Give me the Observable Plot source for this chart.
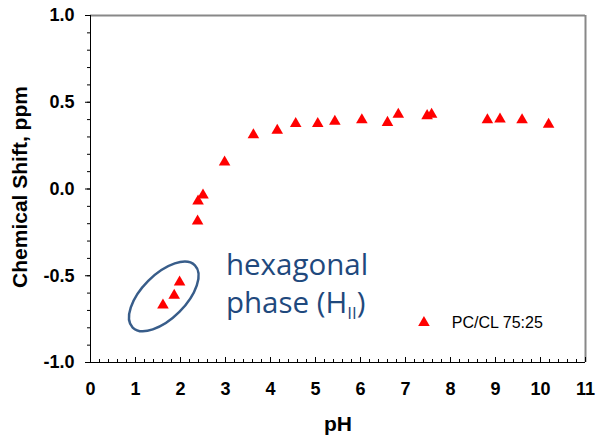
<!DOCTYPE html>
<html><head><meta charset="utf-8">
<script src="https://cdn.jsdelivr.net/npm/d3@7"></script>
<script src="https://cdn.jsdelivr.net/npm/@observablehq/plot@0.6"></script>
<style>body{margin:0;background:#fff;} #chart svg{display:block;}</style>
</head><body><div id="chart"></div>
<script>
// ---- data ----
const pHValues = [1.61, 1.86, 1.98, 2.38, 2.39, 2.50, 2.98, 3.62, 4.15, 4.56, 5.05, 5.43, 6.03, 6.60, 6.84, 7.48, 7.58, 8.82, 9.10, 9.59, 10.18];
const shiftValues = [-0.670, -0.614, -0.537, -0.186, -0.070, -0.035, 0.155, 0.312, 0.337, 0.376, 0.376, 0.390, 0.398, 0.383, 0.430, 0.422, 0.430, 0.398, 0.402, 0.398, 0.372];
const seriesName = "PC/CL 75:25";
const xTickValues = [0, 1, 2, 3, 4, 5, 6, 7, 8, 9, 10, 11];
const yTickValues = [-1, -0.5, 0, 0.5, 1];
const xTitle = "pH";
const yTitle = "Chemical Shift, ppm";
const annotationText = ["hexagonal", "phase (H", "II", ")"];

const data = pHValues.map((x, i) => ({pH: x, shift: shiftValues[i]}));
const xMinor = d3.range(0, 110.5, 2).map(d => d / 10);
const yMinor = d3.range(-10, 10.5, 1).map(d => d / 10);
const font = "'Liberation Sans', Arial, Helvetica, sans-serif";
const annoColor = "#1F497D";

const annotation = (index, scales) => {
  const g = d3.create("svg:g");
  g.append("ellipse")
    .attr("transform", `translate(${scales.x(1.64)},${scales.y(-0.622)}) rotate(-45)`)
    .attr("rx", 44).attr("ry", 22)
    .attr("fill", "none").attr("stroke", "#385D8A").attr("stroke-width", 2.5);
  const t = g.append("g")
    .attr("font-family", "'Open Sans', Lato, sans-serif")
    .attr("text-anchor", "start")
    .attr("font-size", 29.5).attr("fill", annoColor);
  t.append("text").attr("x", scales.x(3.02)).attr("y", scales.y(-0.5)).text(annotationText[0]);
  const t2 = t.append("text").attr("x", scales.x(3.02)).attr("y", scales.y(-0.72));
  t2.append("tspan").text(annotationText[1]);
  t2.append("tspan").attr("font-size", 17).attr("dy", 6).text(annotationText[2]);
  t2.append("tspan").attr("dy", -6).text(annotationText[3]);
  return g.node();
};

const chart = Plot.plot({
  width: 602, height: 444,
  marginLeft: 90, marginRight: 17, marginTop: 15, marginBottom: 82,
  x: {domain: [0, 11]},
  y: {domain: [-1, 1]},
  style: {fontFamily: font, background: "#fff", color: "#000", overflow: "visible"},
  marks: [
    // frame top/right (gray)
    Plot.ruleY([1], {stroke: "#888", strokeWidth: 2}),
    Plot.ruleX([11], {stroke: "#888", strokeWidth: 2}),
    // x axis: minor and major inward ticks
    Plot.axisX(xMinor, {tickSize: -3, text: null, label: null, stroke: "#000"}),
    Plot.axisX(xTickValues, {tickSize: -5, text: null, label: null, stroke: "#000"}),
    Plot.axisX(xTickValues, {tickSize: 0, tickPadding: 20, fontSize: 18, fontWeight: "bold", label: null, tickFormat: d => String(d)}),
    // y axis
    Plot.axisY(yMinor, {tickSize: 3, text: null, label: null, stroke: "#000"}),
    Plot.axisY(yTickValues, {tickSize: 5, tickPadding: 11, fontSize: 18, fontWeight: "bold", label: null, tickFormat: d => d.toFixed(1)}),
    Plot.ruleX([0], {stroke: "#000", strokeWidth: 1}),
    Plot.ruleY([-1], {stroke: "#000", strokeWidth: 1}),
    // titles
    Plot.text([xTitle], {frameAnchor: "bottom", dy: 68, text: d => d, fontSize: 21, fontWeight: "bold", fill: "#000"}),
    Plot.text([yTitle], {frameAnchor: "left", textAnchor: "middle", dx: -70, dy: -2, rotate: -90, text: d => d, fontSize: 21, fontWeight: "bold", fill: "#000"}),
    // data
    Plot.dot(data, {x: "pH", y: "shift", symbol: "triangle", r: 4.3, fill: "#FF0000", stroke: "none"}),
    // legend
    Plot.dot([seriesName], {x: 7.41, y: -0.77, symbol: "triangle", r: 4.3, fill: "#FF0000", stroke: "none"}),
    Plot.text([seriesName], {x: 8.03, y: -0.77, text: d => d, textAnchor: "start", fontSize: 16, fill: "#000"}),
    annotation
  ]
});
document.getElementById("chart").appendChild(chart);
</script>
</body></html>
